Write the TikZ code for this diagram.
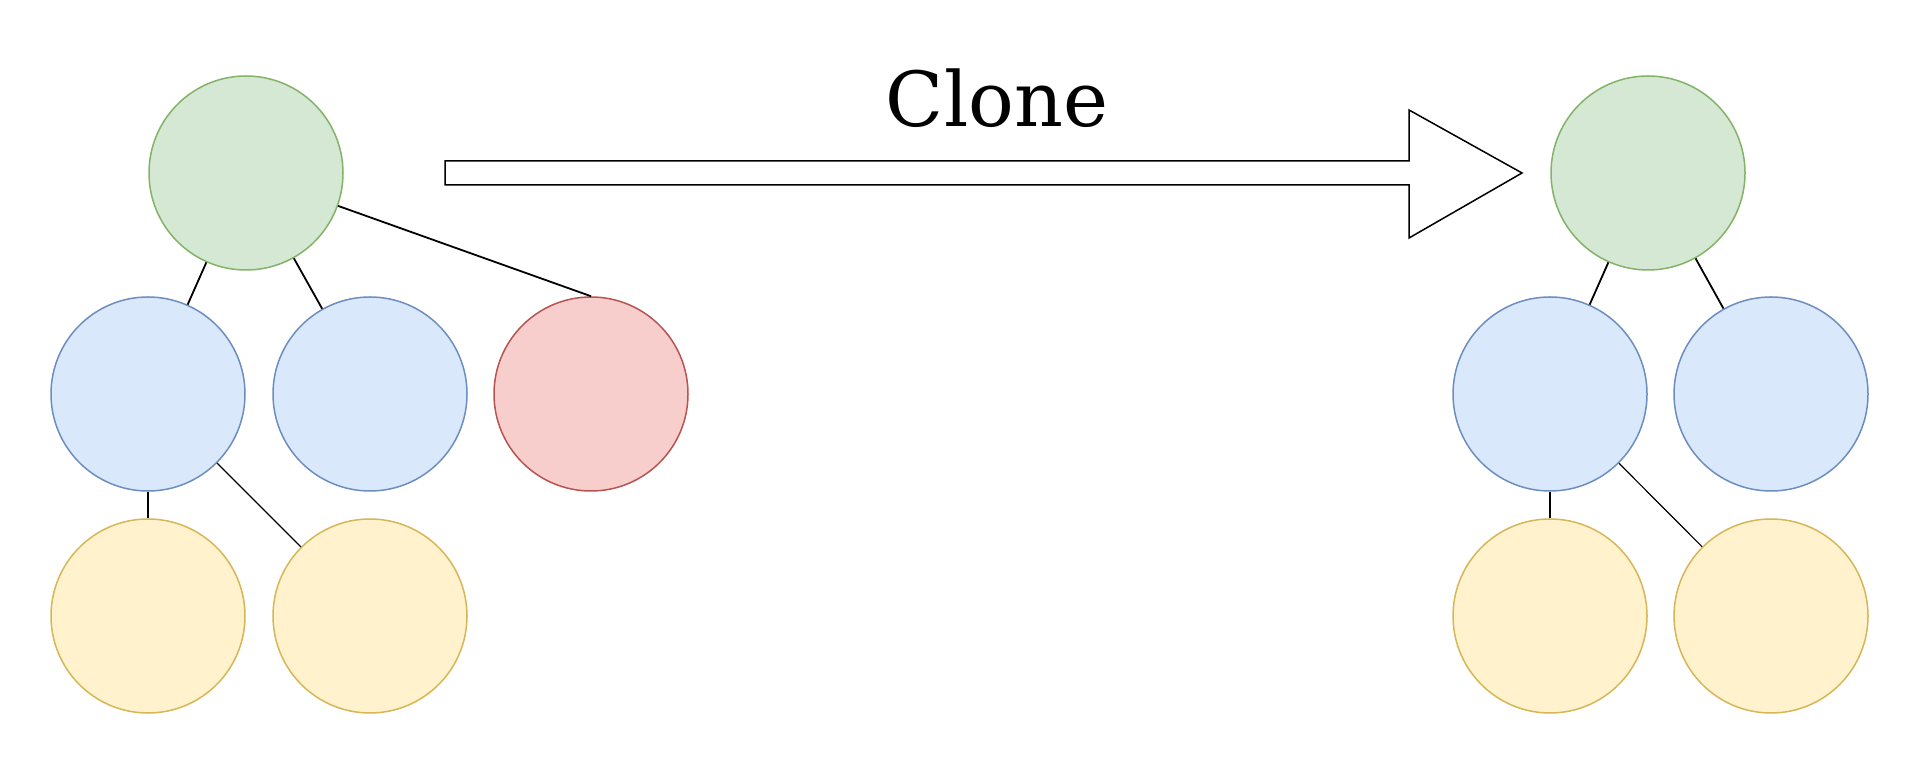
\documentclass[tikz,border=0pt]{standalone}
\usepackage{fontspec}
\setmainfont{DejaVu Serif}
\usepackage{tikz}

\begin{document}
\begin{tikzpicture}[x=0.5pt, y=0.5pt,
	ball/.style={circle, draw, line width=0.75pt, minimum size=97pt, inner sep=0pt},
	rootball/.style={ball, fill=rootfill, draw=rootline},
	midball/.style={ball, fill=midfill, draw=midline},
	cutball/.style={ball, fill=cutfill, draw=cutline},
	leafball/.style={ball, fill=leaffill, draw=leafline},
	branch/.style={line width=0.9pt},
	twig/.style={line width=0.6pt}]

	\definecolor{rootfill}{HTML}{D5E8D4}
	\definecolor{rootline}{HTML}{82B366}
	\definecolor{midfill}{HTML}{DAE8FC}
	\definecolor{midline}{HTML}{6C8EBF}
	\definecolor{cutfill}{HTML}{F8CECC}
	\definecolor{cutline}{HTML}{B85450}
	\definecolor{leaffill}{HTML}{FFF2CC}
	\definecolor{leafline}{HTML}{D6B656}

	\useasboundingbox (0,0) rectangle (1920,765);

	% original tree
	\node[rootball] (G) at (246,592) {};
	\node[midball]  (B1) at (148,371) {};
	\node[midball]  (B2) at (370,371) {};
	\node[cutball]  (R) at (591,371) {};
	\node[leafball] (Y1) at (148,149) {};
	\node[leafball] (Y2) at (370,149) {};

	\draw[branch] (G) -- (B1);
	\draw[branch] (G) -- (B2);
	\draw[branch] (G) -- (R.north);
	\draw[twig] (B1) -- (Y1);
	\draw[twig] (B1) -- (Y2);

	% cloned tree
	\node[rootball] (G') at (1648,592) {};
	\node[midball]  (B1') at (1550,371) {};
	\node[midball]  (B2') at (1771,371) {};
	\node[leafball] (Y1') at (1550,149) {};
	\node[leafball] (Y2') at (1771,149) {};

	\draw[branch] (G') -- (B1');
	\draw[branch] (G') -- (B2');
	\draw[twig] (B1') -- (Y1');
	\draw[twig] (B1') -- (Y2');

	% arrow
	\draw[line width=0.75pt, fill=white] (445,604) -- (1409,604) -- (1409,655) -- (1522,592)
		-- (1409,527) -- (1409,580) -- (445,580) -- cycle;

	\node[anchor=base, inner sep=0pt] (clone) at (997,638) {\fontsize{38}{46}\selectfont Clone};
\end{tikzpicture}
\end{document}
